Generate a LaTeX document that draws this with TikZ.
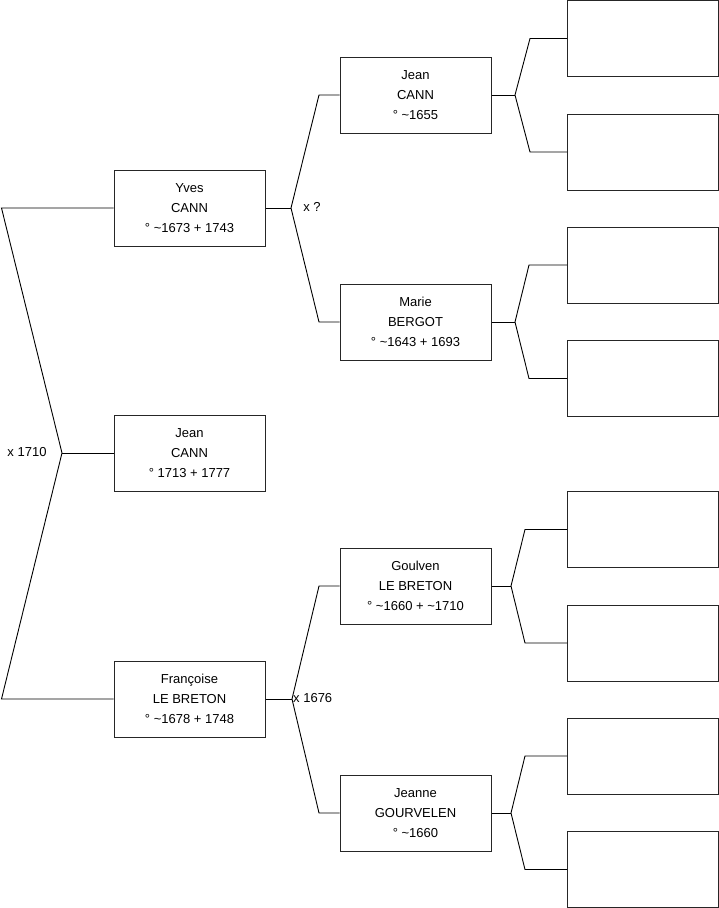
\documentclass[tikz,border=0pt]{standalone}
\usepackage{fontspec}
\setmainfont{Liberation Sans}
\begin{document}
\begin{tikzpicture}[x=1pt,y=-1pt,
  person/.style={draw=black!85,line width=1pt,minimum width=151pt,minimum height=76pt,inner sep=0pt,align=center,
    font=\fontsize{13}{20}\selectfont},
  link/.style={draw=black,line width=0.9pt},
  lbl/.style={font=\fontsize{13}{15}\selectfont,inner sep=0pt}]
\useasboundingbox (0,0) rectangle (719,908);
% generation 1
\node[person] (yves) at (189.5,208) {Yves\\CANN\\° \textasciitilde1673 + 1743};
\node[person] (jean) at (189.5,453) {Jean\\CANN\\° 1713 + 1777};
\node[person] (fran) at (189.5,699) {Françoise\\LE BRETON\\° \textasciitilde1678 + 1748};
% generation 2
\node[person] (jeanp) at (415.5,95) {Jean\\CANN\\° \textasciitilde1655};
\node[person] (marie) at (415.5,322) {Marie\\BERGOT\\° \textasciitilde1643 + 1693};
\node[person] (goulven) at (415.5,586) {Goulven\\LE BRETON\\° \textasciitilde1660 + \textasciitilde1710};
\node[person] (jeanne) at (415.5,813) {Jeanne\\GOURVELEN\\° \textasciitilde1660};
% generation 3
\node[person] (b1) at (643,38.5) {};
\node[person] (b2) at (643,152) {};
\node[person] (b3) at (643,265) {};
\node[person] (b4) at (643,378.5) {};
\node[person] (b5) at (643,529.5) {};
\node[person] (b6) at (643,643) {};
\node[person] (b7) at (643,756) {};
\node[person] (b8) at (643,869.5) {};
% left bracket
\coordinate (L1) at (1.5,208);
\coordinate (A0) at (62,453);
\coordinate (L2) at (1.5,699);
\draw[link] (yves.west) -- (L1) -- (A0) -- (L2) -- (fran.west);
\draw[link] (A0) -- (jean.west);
\node[lbl] (m0) at (27,452) {x 1710};
% Yves bracket
\coordinate (A1) at (291,208);
\coordinate (P1) at (319,95);
\coordinate (P2) at (319,322);
\draw[link] (yves.east) -- (A1);
\draw[link] (jeanp.west) -- (P1) -- (A1) -- (P2) -- (marie.west);
\node[lbl] (m1) at (312,207) {x ?};
% Francoise bracket
\coordinate (A2) at (292,699);
\coordinate (P3) at (319,586);
\coordinate (P4) at (319,813);
\draw[link] (fran.east) -- (A2);
\draw[link] (goulven.west) -- (P3) -- (A2) -- (P4) -- (jeanne.west);
\node[lbl,anchor=west] (m2) at (293,698) {x 1676};
% generation 3 brackets
\coordinate (A3) at (515,95);
\coordinate (Q1) at (530,38.5);
\coordinate (Q2) at (530,152);
\draw[link] (jeanp.east) -- (A3);
\draw[link] (b1.west) -- (Q1) -- (A3) -- (Q2) -- (b2.west);
\coordinate (A4) at (515,322);
\coordinate (Q3) at (529,265);
\coordinate (Q4) at (529,378.5);
\draw[link] (marie.east) -- (A4);
\draw[link] (b3.west) -- (Q3) -- (A4) -- (Q4) -- (b4.west);
\coordinate (A5) at (511,586);
\coordinate (Q5) at (525,529.5);
\coordinate (Q6) at (525,643);
\draw[link] (goulven.east) -- (A5);
\draw[link] (b5.west) -- (Q5) -- (A5) -- (Q6) -- (b6.west);
\coordinate (A6) at (511,813);
\coordinate (Q7) at (525,756);
\coordinate (Q8) at (525,869.5);
\draw[link] (jeanne.east) -- (A6);
\draw[link] (b7.west) -- (Q7) -- (A6) -- (Q8) -- (b8.west);
\end{tikzpicture}
\end{document}
